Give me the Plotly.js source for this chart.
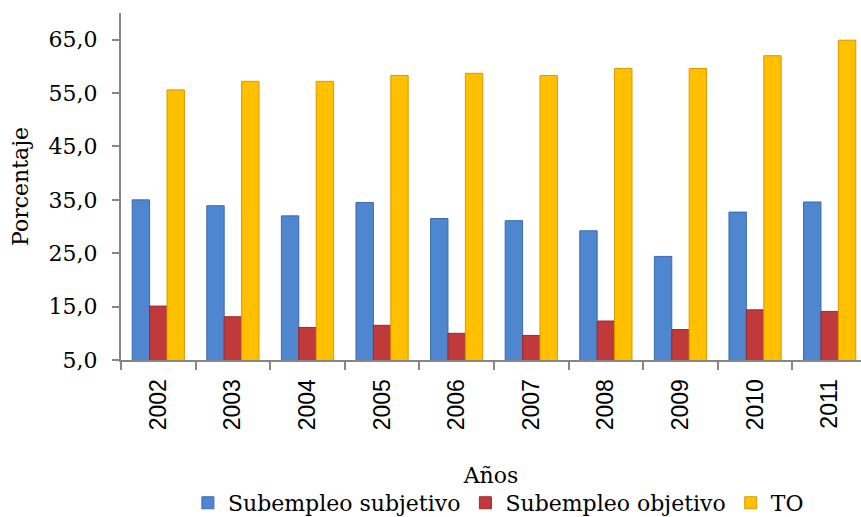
<!DOCTYPE html>
<html>
<head>
<meta charset="utf-8">
<script src="https://cdn.plot.ly/plotly-3.0.1.min.js"></script>
<style>html,body{margin:0;padding:0;background:#fff;}#chart{width:861px;height:517px;}</style>
</head>
<body>
<div id="chart"></div>
<script>
const years = ['2002','2003','2004','2005','2006','2007','2008','2009','2010','2011'];
const subjetivo = [35.0, 33.9, 32.0, 34.5, 31.5, 31.1, 29.2, 24.4, 32.7, 34.6];
const objetivo = [15.1, 13.1, 11.1, 11.5, 10.0, 9.6, 12.3, 10.7, 14.4, 14.1];
const to = [55.6, 57.2, 57.2, 58.3, 58.7, 58.3, 59.6, 59.6, 62.0, 64.9];
const seriesNames = ['Subempleo subjetivo', 'Subempleo objetivo', 'TO'];

const serif = 'DejaVu Serif, serif';
const traces = [
  {type:'bar', name:seriesNames[0], x:years, y:subjetivo,
   marker:{color:'#4F86D0', line:{color:'#3A6BAE', width:1}}},
  {type:'bar', name:seriesNames[1], x:years, y:objetivo,
   marker:{color:'#C0393B', line:{color:'#9A2A2C', width:1}}},
  {type:'bar', name:seriesNames[2], x:years, y:to,
   marker:{color:'#FFC000', line:{color:'#D99A00', width:1}}}
];
const layout = {
  width:861, height:517,
  margin:{l:121, r:0, t:13, b:157, autoexpand:false},
  paper_bgcolor:'#fff', plot_bgcolor:'#fff',
  separators:',.',
  barmode:'group', bargap:0.3, bargroupgap:0,
  showlegend:true,
  legend:{orientation:'h', x:0.51, xanchor:'center', y:-0.412, yanchor:'middle',
          font:{family:serif, size:22, color:'#000'}, itemwidth:30, tracegroupgap:0},
  xaxis:{type:'category', range:[-0.5, 9.42], showline:true, linecolor:'#868686', linewidth:2,
         ticks:'outside', ticklen:8, tickcolor:'#868686', tickwidth:2, tickson:'boundaries',
         ticklabelstandoff:8, automargin:false,
         tickangle:-90, tickfont:{family:'Liberation Sans, Arial, sans-serif', size:23, color:'#000'},
         showgrid:false, zeroline:false,
         title:{text:'Años', font:{family:serif, size:22, color:'#000'}, standoff:38}},
  yaxis:{range:[5,70], tick0:5, dtick:10, tickformat:'.1f', showline:true, linecolor:'#868686', linewidth:2,
         ticks:'outside', ticklen:7, tickcolor:'#868686', tickwidth:2, ticklabelstandoff:10, automargin:false,
         tickfont:{family:serif, size:22, color:'#000'}, showgrid:false, zeroline:false,
         title:{text:'Porcentaje', font:{family:serif, size:22, color:'#000'}, standoff:14}}
};
Plotly.newPlot('chart', traces, layout, {displayModeBar:false, staticPlot:true});
</script>
</body>
</html>
